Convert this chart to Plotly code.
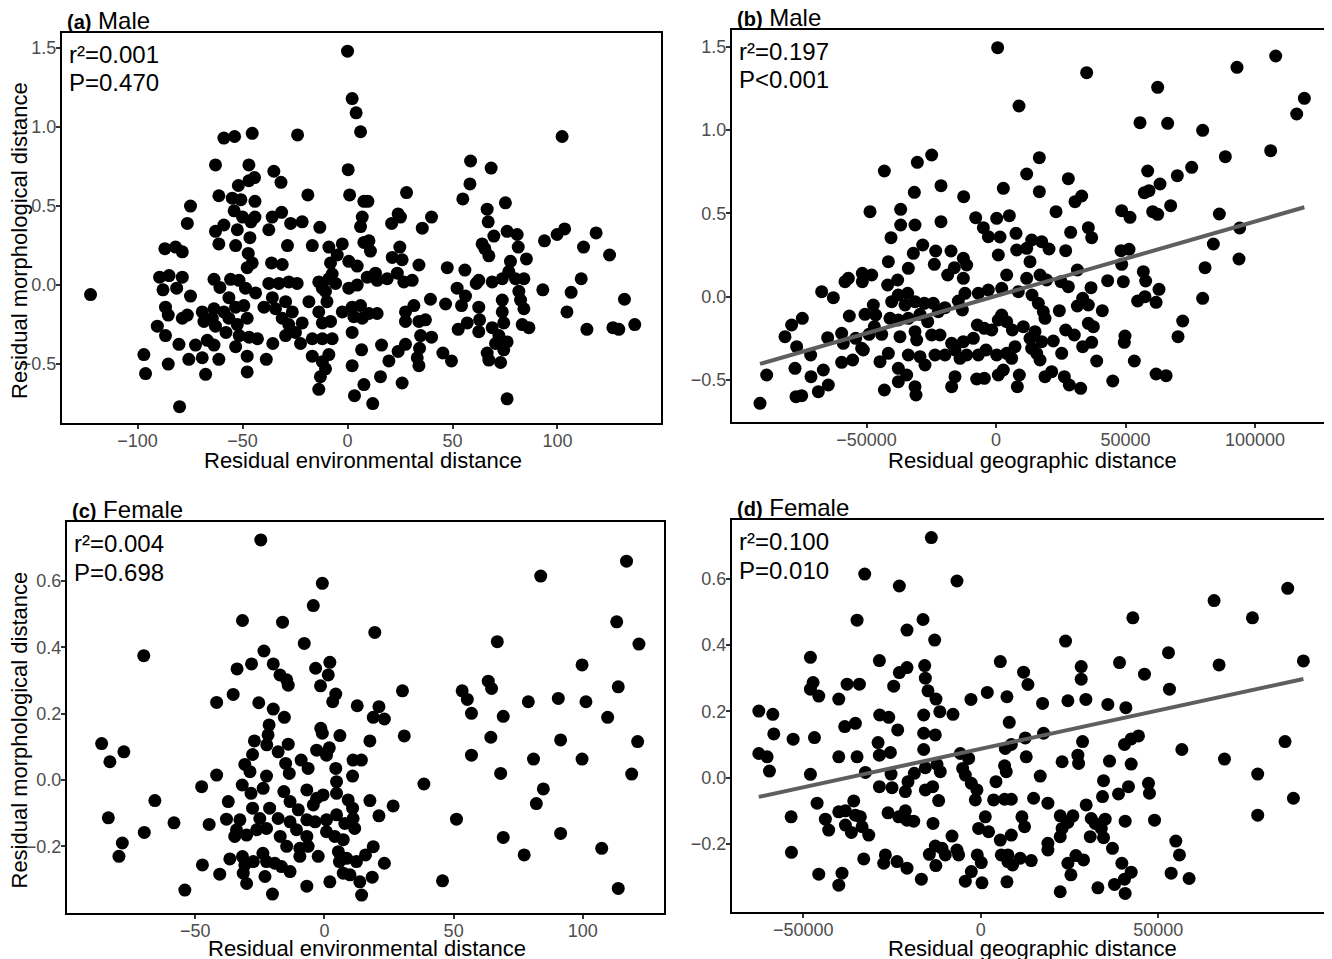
import plotly.graph_objects as go

W, H = 1332, 959
OFF = 8  # page body margin of the html page
FW, FH = W - OFF, H - OFF

# ---------------- data ----------------
# (a) Male: residual environmental distance vs residual morphological distance
male_env = [
    (0, 1.48), (2.2, 1.18), (4.1, 1.09), (6.2, 0.97), (-58.9, 0.93), (-53.8, 0.94), (-45.4, 0.96), (-23.8, 0.95),
    (-62.9, 0.76), (-47, 0.76), (-44.3, 0.68), (-47, 0.66), (-35.1, 0.72), (-31.7, 0.65), (-52, 0.63), (0.3, 0.73),
    (1, 0.57), (-61.3, 0.565), (-54.9, 0.55), (-50.8, 0.54), (-44.1, 0.53), (-18.9, 0.57), (-74.8, 0.50), (-76.3, 0.39),
    (-54, 0.47), (-50, 0.43), (-44.1, 0.43), (-46, 0.40), (-35.9, 0.43), (-31.4, 0.46), (-27.1, 0.39), (-21.6, 0.40),
    (-13.2, 0.365), (-37.5, 0.35), (-62.9, 0.34), (-58.9, 0.38), (-52.5, 0.35), (-61.3, 0.26), (-53.3, 0.25), (-46.5, 0.30),
    (-47.3, 0.20), (-45.4, 0.14), (-47.8, 0.11), (-87, 0.23), (-81.9, 0.24), (-78.7, 0.21), (-28.6, 0.25), (-16.8, 0.25),
    (-8.9, 0.24), (-2.5, 0.26), (-4.9, 0.19), (0.6, 0.15), (4.6, 0.12), (-36.2, 0.14), (-31.1, 0.13), (-8.1, 0.14),
    (-89.5, 0.05), (-85, 0.06), (-78.7, 0.05), (-87.9, -0.03), (-81.4, -0.02), (-74.8, -0.07), (-122.4, -0.06),
    (-63.6, 0.036), (-60.8, -0.015), (-55.7, 0.036), (-51.7, 0.03), (-48.6, -0.02), (-43.8, -0.05), (-37.5, 0.01),
    (-32.7, 0.01), (-28, 0.02), (-24, 0.01), (-13.7, 0.02), (-8.9, 0.04), (-5.7, 0.01), (0.6, -0.02), (4.6, 0),
    (-86.7, -0.14), (-85.4, -0.19), (-90.6, -0.26), (-86.7, -0.32), (-78.7, -0.21), (-76.3, -0.19), (-69.2, -0.17),
    (-68.4, -0.23), (-63.6, -0.15), (-64.4, -0.21), (-62.9, -0.26), (-58.9, -0.17), (-56.5, -0.08), (-53.3, -0.14),
    (-49.4, -0.13), (-56.5, -0.21), (-52.5, -0.25), (-47.8, -0.21), (-57.9, -0.30), (-51.6, -0.32), (-46.9, -0.33),
    (-42.9, -0.34), (-39.8, -0.14), (-35.8, -0.08), (-34.3, -0.15), (-29.5, -0.105), (-31.1, -0.21), (-26.3, -0.17),
    (-28, -0.25), (-24.8, -0.30), (-29.5, -0.32), (-21.6, -0.24), (-18.4, -0.105), (-13.7, -0.17), (-9.8, -0.105),
    (-12, -0.24), (-8.1, -0.23), (-16.8, -0.34), (-12, -0.34), (-7.3, -0.34), (-2.5, -0.17), (2.2, -0.14), (3, -0.2),
    (2.2, -0.30), (6.7, -0.41), (-35.6, -0.37), (-22.4, -0.37), (-80.3, -0.375), (-72.4, -0.38), (-66.8, -0.35),
    (-63.6, -0.38), (-53.3, -0.39), (-97, -0.44), (-96.2, -0.56), (-85.4, -0.50), (-75.6, -0.47), (-69.2, -0.46),
    (-67.6, -0.565), (-61.3, -0.47), (-47.8, -0.45), (-47.8, -0.55), (-38.7, -0.47), (-16.8, -0.45), (-12, -0.485),
    (-8.9, -0.44), (-10.5, -0.53), (-12.9, -0.58), (-13.7, -0.66), (2.2, -0.51), (3.3, -0.70), (7.8, -0.63),
    (-80, -0.77), (-12, -0.02), (-7.3, 0.07), (-10.5, -0.04), (7, 0.43), (6.2, 0.37), (7.8, 0.27), (7.8, 0.53),
    (102.2, 0.94), (58.6, 0.785), (68.4, 0.74), (58.3, 0.64), (54.9, 0.545), (28.1, 0.585), (9.7, 0.53),
    (75.2, 0.52), (66.5, 0.48), (67, 0.40), (24.1, 0.45), (21, 0.39), (25.2, 0.43), (40, 0.43), (35.6, 0.36),
    (69.7, 0.31), (76, 0.34), (80.8, 0.32), (81.3, 0.24), (85.2, 0.165), (93.8, 0.28), (99.8, 0.32), (103.4, 0.355),
    (118.4, 0.33), (112.4, 0.24), (124.8, 0.19), (10.2, 0.28), (10.9, 0.215), (24.9, 0.24), (21.3, 0.175), (26, 0.16),
    (64.1, 0.26), (65.4, 0.23), (67.3, 0.185), (34, 0.127), (47.5, 0.11), (55.9, 0.095), (77.6, 0.15), (76.8, 0.085),
    (80, 0.04), (84, 0.04), (73.7, 0.04), (62.5, 0.03), (68.9, 0.02), (61.3, 0.01), (9.4, 0.05), (13.3, 0.075),
    (14.1, 0.03), (18.9, 0.04), (23.7, 0.075), (26.8, 0.02), (30.8, 0.03), (93, -0.03), (106.5, -0.046), (111.3, 0.04),
    (131.9, -0.09), (136.8, -0.25), (126.4, -0.27), (129.2, -0.28), (114, -0.28), (104.5, -0.17), (52.2, -0.02),
    (56.2, -0.07), (54.3, -0.13), (46.7, -0.12), (39.5, -0.09), (31.6, -0.13), (27.6, -0.17), (27.6, -0.23), (34, -0.23),
    (37.1, -0.22), (14.1, -0.18), (10.2, -0.18), (6.2, -0.13), (7, -0.21), (52.7, -0.28), (57, -0.24), (62.5, -0.14),
    (62.9, -0.22), (62.5, -0.295), (73.7, -0.095), (73.7, -0.17), (81.6, -0.04), (82.4, -0.095), (84, -0.15),
    (83.2, -0.25), (86.4, -0.27), (74.4, -0.24), (68.9, -0.27), (72.1, -0.32), (76, -0.36), (74.4, -0.41), (70.5, -0.37),
    (66.5, -0.43), (67.3, -0.475), (72.9, -0.49), (76, -0.72), (34.8, -0.32), (40, -0.33), (34.3, -0.40), (33.2, -0.46),
    (34, -0.51), (27.6, -0.375), (24.1, -0.42), (19.7, -0.48), (16.2, -0.38), (45.4, -0.43), (49.5, -0.48), (26, -0.62),
    (15.7, -0.58), (12, -0.75),
]

# (b) Male: residual geographic distance vs residual morphological distance
male_geo = [
    (640, 1.494), (8880, 1.144), (-24840, 0.85), (-30370, 0.806), (-43110, 0.754), (-21240, 0.666), (-31530, 0.626),
    (-12480, 0.60), (2830, 0.65), (11840, 0.736), (-48650, 0.51), (-36810, 0.524), (-31270, 0.43), (-40540, 0.354),
    (-36810, 0.43), (-21240, 0.45), (-7850, 0.474), (-4890, 0.414), (-2960, 0.36), (260, 0.47), (5150, 0.486),
    (1540, 0.358), (7720, 0.38), (7980, 0.28), (11840, 0.29), (13770, 0.34), (-28310, 0.31), (-31920, 0.26),
    (-23290, 0.274), (-23810, 0.194), (-17370, 0.274), (-41570, 0.21), (-33850, 0.17), (-37970, 0.10), (-41830, 0.07),
    (-16090, 0.174), (-12610, 0.23), (-11330, 0.19), (-18660, 0.13), (-12610, 0.11), (900, 0.25), (4120, 0.13),
    (-6820, 0.02), (-2960, 0.04), (2190, 0.05), (8620, 0.03), (11840, 0.11), (13130, 0.21), (-48000, 0.13),
    (-51610, 0.14), (-67310, 0.03), (-62800, -0.006), (-58300, 0.09), (-57010, 0.11), (-51610, 0.09), (-47360, -0.05),
    (-46460, -0.11), (-35130, -0.05), (-40280, -0.03), (-37710, 0.01), (-34100, 0.02), (-31270, -0.03), (-27670, -0.04),
    (-24200, -0.04), (-22270, -0.09), (-19700, -0.066), (-14540, -0.026), (-12990, -0.08), (-11970, 0.02),
    (-56630, -0.116), (-50580, -0.106), (-40930, -0.13), (-37710, -0.14), (-33850, -0.13), (-29340, -0.106),
    (-26380, -0.15), (-81470, -0.24), (-78900, -0.17), (-74780, -0.13), (-76960, -0.30), (-71560, -0.35),
    (-77610, -0.43), (-65000, -0.246), (-59590, -0.22), (-58950, -0.28), (-54180, -0.25), (-51870, -0.31),
    (-49030, -0.226), (-46980, -0.18), (-44140, -0.226), (-59590, -0.394), (-55340, -0.38), (-51220, -0.32),
    (-44790, -0.39), (-41570, -0.34), (-37070, -0.24), (-31270, -0.21), (-30630, -0.26), (-24840, -0.23),
    (-21620, -0.23), (-17120, -0.28), (-12610, -0.27), (-8750, -0.25), (-7210, -0.17), (-4500, -0.19), (-1670, -0.20),
    (900, -0.14), (2190, -0.11), (4120, -0.15), (6310, -0.20), (10550, -0.18), (13130, -0.25), (-33850, -0.35),
    (-29340, -0.36), (-27410, -0.41), (-23550, -0.35), (-19700, -0.35), (-15830, -0.32), (-13900, -0.37),
    (-11330, -0.35), (-6820, -0.35), (-3860, -0.32), (260, -0.35), (4120, -0.34), (6050, -0.37), (7340, -0.30),
    (-37710, -0.43), (-34490, -0.47), (-37710, -0.51), (-43110, -0.56), (-31270, -0.54), (-30890, -0.59),
    (-17120, -0.54), (-15830, -0.48), (-7460, -0.494), (-4500, -0.49), (900, -0.47), (2830, -0.44), (8240, -0.54),
    (9010, -0.47), (-88540, -0.47), (-91120, -0.64), (-75030, -0.594), (-77220, -0.60), (-71430, -0.48),
    (-68600, -0.57), (-66670, -0.44), (-64740, -0.53),
    (35000, 1.344), (62420, 1.256), (93050, 1.376), (107990, 1.444), (119050, 1.19), (116090, 1.096), (106050, 0.876),
    (55600, 1.044), (66280, 1.04), (79790, 0.998), (88540, 0.84), (75550, 0.776), (70010, 0.726), (63320, 0.676),
    (58560, 0.754), (57270, 0.624), (59070, 0.636), (67430, 0.546), (60480, 0.51), (62420, 0.494), (48520, 0.516),
    (51740, 0.476), (86230, 0.496), (94080, 0.412), (83920, 0.316), (80700, 0.174), (93820, 0.226), (79790, -0.01),
    (72070, -0.146), (70280, -0.24), (16730, 0.834), (27930, 0.708), (16730, 0.63), (30500, 0.57), (33080, 0.604),
    (23170, 0.51), (28830, 0.386), (35650, 0.414), (36940, 0.354), (17630, 0.33), (20460, 0.286), (26900, 0.276),
    (48260, 0.276), (51350, 0.284), (48520, 0.194), (31410, 0.16), (56880, 0.15), (57780, 0.094), (62930, 0.044),
    (43110, 0.096), (49160, 0.09), (36680, 0.054), (27930, 0.06), (25100, 0.09), (19560, 0.10), (16990, 0.13),
    (13900, 0.01), (16350, -0.04), (18270, -0.09), (18920, -0.13), (24450, -0.084), (31410, -0.056), (33460, -0.01),
    (35650, -0.05), (41050, -0.084), (54690, -0.026), (57520, 0), (61810, -0.034), (35650, -0.16), (37590, -0.18),
    (26900, -0.20), (30230, -0.23), (33460, -0.30), (36940, -0.274), (49800, -0.236), (49540, -0.274),
    (38870, -0.386), (53410, -0.386), (15060, -0.21), (17630, -0.27), (13770, -0.31), (22130, -0.266),
    (25360, -0.34), (15700, -0.34), (16990, -0.38), (18920, -0.48), (21490, -0.45), (26390, -0.48), (28310, -0.53),
    (32690, -0.55), (45080, -0.506), (61810, -0.464), (65670, -0.474),
]

# (c) Female: residual environmental distance vs residual morphological distance
female_env = [
    (-24.6, 0.724), (-0.8, 0.593), (-4.3, 0.526), (-31.7, 0.481), (-16.2, 0.476), (-7.8, 0.412), (-69.9, 0.375),
    (-23.4, 0.389), (-28.2, 0.35), (-33.8, 0.335), (-19.8, 0.35), (-17.2, 0.317), (-14.6, 0.302), (-14, 0.286),
    (-3.4, 0.337), (2.1, 0.355), (1.5, 0.317), (-1.5, 0.284), (4.4, 0.259), (3.2, 0.236), (12.7, 0.224), (-41.7, 0.234),
    (-35.3, 0.258), (-25.4, 0.233), (-19.8, 0.214), (-15.5, 0.189), (-21.4, 0.166), (-21.8, 0.136), (-27.1, 0.118),
    (-22.3, 0.106), (-17.9, 0.085), (-14, 0.108), (-1.4, 0.156), (-0.8, 0.141), (6, 0.134), (-3, 0.09), (1.9, 0.097),
    (11.1, 0.06), (14.3, 0.06), (-27.8, 0.077), (-30.8, 0.047), (-28.8, 0.025), (-22.4, 0.012), (-15, 0.05),
    (-13.6, 0.02), (-9, 0.06), (-6.3, 0.035), (0.8, 0.075), (4.4, 0.035), (10.9, 0.012), (4.7, -0.005), (-86.2, 0.11),
    (-83, 0.055), (-77.6, 0.085), (-41.7, 0.015), (-47.5, -0.02), (-31.8, -0.015), (-28.4, -0.04), (-23.7, -0.025),
    (-15.7, -0.035), (-13.3, -0.065), (-6.8, -0.03), (-3, -0.055), (-4.3, -0.075), (-0.5, -0.045), (4.7, -0.04),
    (9.2, -0.06), (10.9, -0.085), (-37.2, -0.065), (-65.6, -0.062), (-83.6, -0.114), (-58.2, -0.129), (-44.6, -0.134),
    (-37.9, -0.118), (-32.7, -0.12), (-27.8, -0.085), (-25, -0.116), (-21.2, -0.085), (-17.9, -0.116), (-13.3, -0.126),
    (-10.1, -0.09), (-6.8, -0.12), (-3.6, -0.126), (0.8, -0.12), (4.7, -0.105), (7.9, -0.131), (11.1, -0.116),
    (11.7, -0.146), (-34, -0.15), (-30.1, -0.166), (-26.2, -0.15), (-22.4, -0.146), (-10.8, -0.15), (-6.8, -0.17),
    (0.8, -0.156), (4, -0.17), (7.3, -0.18), (-34.7, -0.17), (-17.1, -0.17), (-14.6, -0.2), (-9.5, -0.206),
    (-6.3, -0.2), (-2.4, -0.23), (-9.5, -0.23), (5.4, -0.216), (8.6, -0.236), (12.4, -0.246), (-69.7, -0.158),
    (-78.2, -0.19), (-79.5, -0.23), (-47.2, -0.256), (-40.5, -0.284), (-54, -0.332), (-36.6, -0.238), (-31.7, -0.231),
    (-30.8, -0.256), (-27.5, -0.246), (-23.8, -0.221), (-22.4, -0.246), (-19.2, -0.251), (-16.6, -0.261),
    (-13.3, -0.276), (-31.4, -0.281), (-30.1, -0.312), (-23, -0.291), (-20.1, -0.344), (-6.8, -0.32), (2.1, -0.307),
    (5.8, -0.246), (7.3, -0.281), (9.9, -0.286), (13.7, -0.307), (14.4, -0.347),
    (116.9, 0.66), (83.7, 0.615), (19.5, 0.445), (113.1, 0.477), (121.7, 0.41), (66.9, 0.417), (99.7, 0.347),
    (113.7, 0.281), (63.4, 0.298), (64.7, 0.276), (53.3, 0.269), (55.3, 0.243), (56.9, 0.201), (69.2, 0.192),
    (78.9, 0.236), (90.5, 0.246), (101.2, 0.236), (109.6, 0.189), (30.2, 0.269), (21.1, 0.221), (18.9, 0.189),
    (23.2, 0.184), (17.6, 0.118), (30.9, 0.133), (56.9, 0.075), (64.4, 0.129), (91.4, 0.121), (80.9, 0.063),
    (99.7, 0.063), (121.2, 0.116), (118.9, 0.018), (68.2, 0.02), (38.5, -0.012), (84.7, -0.027), (82, -0.071),
    (17.6, -0.062), (26.6, -0.078), (21.1, -0.108), (51.1, -0.118), (69.2, -0.173), (91.4, -0.161), (77.3, -0.226),
    (107.3, -0.206), (18.9, -0.201), (15.9, -0.226), (23.2, -0.251), (18.5, -0.293), (45.7, -0.304), (113.7, -0.327),
]

# (d) Female: residual geographic distance vs residual morphological distance
female_geo = [
    (-13930, 0.724), (-32690, 0.614), (-22940, 0.578), (-6710, 0.593), (-34850, 0.475), (-16270, 0.477),
    (-20780, 0.445), (-12990, 0.415), (-47980, 0.363), (-28560, 0.353), (-20780, 0.332), (-22940, 0.317),
    (-15800, 0.338), (-15620, 0.30), (-14870, 0.262), (-12620, 0.237), (-47230, 0.287), (-47980, 0.267),
    (-45630, 0.246), (-37660, 0.282), (-34190, 0.282), (-24530, 0.276), (-40000, 0.237), (-62520, 0.201),
    (-58580, 0.191), (-58300, 0.132), (-52850, 0.116), (-46850, 0.121), (-38320, 0.154), (-35320, 0.164),
    (-28470, 0.189), (-25930, 0.182), (-23400, 0.144), (-16080, 0.189), (-11540, 0.199), (-7830, 0.191),
    (-16080, 0.134), (-12810, 0.129), (-2770, 0.236), (1830, 0.257), (7360, 0.244), (5490, 0.35), (12050, 0.318),
    (13270, 0.281), (8020, 0.167), (6890, 0.088), (6700, 0.036), (7170, 0.018), (8590, 0.10), (12520, 0.12),
    (12800, 0.063), (-62520, 0.073), (-60170, 0.063), (-59520, 0.02), (-47980, 0.01), (-40000, 0.063),
    (-34850, 0.063), (-32500, 0.016), (-28930, 0.106), (-28560, 0.068), (-25460, 0.076), (-25280, 0.011),
    (-28560, -0.027), (-25000, -0.03), (-21250, -0.042), (-20500, -0.012), (-18720, 0.013), (-16080, 0.085),
    (-15620, 0.03), (-12340, 0.04), (-11410, 0.018), (-15620, -0.037), (-13550, -0.027), (-11870, -0.069),
    (-5770, 0.073), (-3420, 0.058), (-5110, 0.028), (-4360, 0.008), (-2670, -0.017), (-1080, -0.037), (-1550, -0.067),
    (4270, -0.012), (3610, -0.067), (6700, -0.065), (8590, -0.065), (-46100, -0.077), (-53420, -0.118),
    (-53330, -0.225), (-45630, -0.291), (-40000, -0.324), (-39090, -0.288), (-35790, -0.07), (-43780, -0.125),
    (-42840, -0.158), (-40000, -0.103), (-38130, -0.10), (-35320, -0.113), (-38130, -0.143), (-36450, -0.165),
    (-33910, -0.118), (-33440, -0.148), (-31560, -0.173), (-26120, -0.106), (-23120, -0.118), (-21250, -0.10),
    (-20780, -0.128), (-18900, -0.131), (-13460, -0.138), (-32970, -0.245), (-26870, -0.233), (-27340, -0.258),
    (-23590, -0.253), (-20780, -0.273), (-16740, -0.306), (-14490, -0.231), (-12810, -0.206), (-10930, -0.213),
    (-12660, -0.265), (-10000, -0.233), (-8110, -0.176), (-6710, -0.218), (-6240, -0.233), (-4360, -0.312),
    (-2670, -0.283), (-990, -0.233), (140, -0.256), (330, -0.317), (-610, -0.153), (1270, -0.118), (2200, -0.163),
    (5490, -0.188), (8590, -0.173), (11580, -0.118), (12330, -0.148), (5770, -0.233), (7640, -0.233), (7640, -0.253),
    (8960, -0.263), (11110, -0.243), (7360, -0.314),
    (86440, 0.571), (65700, 0.534), (76500, 0.482), (42820, 0.482), (23870, 0.412), (52860, 0.377), (39070, 0.347),
    (28280, 0.335), (28280, 0.297), (46100, 0.312), (67110, 0.34), (90850, 0.352), (53140, 0.267), (17400, 0.224),
    (24530, 0.232), (29590, 0.236), (35780, 0.221), (40850, 0.211), (17680, 0.134), (28660, 0.109), (40470, 0.10),
    (42350, 0.117), (44410, 0.126), (56620, 0.085), (68630, 0.056), (85690, 0.109), (22900, 0.048), (27340, 0.068),
    (27540, 0.043), (36250, 0.05), (42350, 0.041), (77990, 0.011), (16740, 0.005), (34570, -0.009), (47230, -0.017),
    (47510, -0.047), (41600, -0.027), (38790, -0.049), (34280, -0.057), (14870, -0.062), (18900, -0.077),
    (88040, -0.062), (77990, -0.113), (29680, -0.082), (22370, -0.115), (25940, -0.115), (24530, -0.135),
    (31100, -0.123), (32220, -0.138), (35030, -0.125), (33930, -0.153), (40660, -0.131), (48930, -0.128),
    (22900, -0.153), (22370, -0.178), (30820, -0.178), (34570, -0.181), (37090, -0.213), (18900, -0.198),
    (18900, -0.218), (14210, -0.25), (24530, -0.258), (26780, -0.235), (28940, -0.248), (25380, -0.293),
    (39730, -0.258), (42350, -0.285), (40470, -0.306), (37650, -0.322), (40660, -0.349), (32980, -0.332),
    (22370, -0.344), (54920, -0.191), (55950, -0.233), (53610, -0.288), (58670, -0.304),
]

# linear fits (intercept, slope) shown in panels b and d
fit_male_geo = [0.004, 4.473e-6]
fit_female_geo = [0.087, 2.319e-6]

panel_letters = ["(a)", "(b)", "(c)", "(d)"]
panel_sexes = ["Male", "Male", "Female", "Female"]
r2_texts = ["r\u00b2=0.001", "r\u00b2=0.197", "r\u00b2=0.004", "r\u00b2=0.100"]
p_texts = ["P=0.470", "P<0.001", "P=0.698", "P=0.010"]
x_titles = ["Residual environmental distance", "Residual geographic distance",
            "Residual environmental distance", "Residual geographic distance"]
y_title = "Residual morphological distance"

xticks_a = [-100, -50, 0, 50, 100]
xticks_b = [-50000, 0, 50000, 100000]
xticks_c = [-50, 0, 50, 100]
xticks_d = [-50000, 0, 50000]
yticks_male = [-0.5, 0.0, 0.5, 1.0, 1.5]
yticks_female = [-0.2, 0.0, 0.2, 0.4, 0.6]

# ---------------- layout (pixel boxes in the page) ----------------
FONT = "Liberation Sans, Arial, Helvetica, sans-serif"
TICK_COLOR = "#4d4d4d"

panels = [
    dict(data=male_env, fit=None, box=(62, 33, 661, 423), xr=[-136, 149.3], yr=[-0.873, 1.595],
         xt=xticks_a, yt=yticks_male, tgap=38),
    dict(data=male_geo, fit=fit_male_geo, box=(732, 30, 1331, 422), xr=[-101930, 129340], yr=[-0.752, 1.60],
         xt=xticks_b, yt=yticks_male, tgap=39),
    dict(data=female_env, fit=None, box=(67, 522, 664, 913), xr=[-99.6, 131.4], yr=[-0.401, 0.778],
         xt=xticks_c, yt=yticks_female, tgap=35),
    dict(data=female_geo, fit=fit_female_geo, box=(732, 520, 1331, 912), xr=[-70070, 98630], yr=[-0.405, 0.777],
         xt=xticks_d, yt=yticks_female, tgap=36),
]


def px(x):
    return (x - OFF) / FW


def py(y):
    return 1 - (y - OFF) / FH


def fmt_x(v):
    return str(v).replace("-", "\u2212")


def fmt_y(v):
    return f"{v:.1f}".replace("-", "\u2212")


fig = go.Figure()
layout = dict(
    width=FW, height=FH, margin=dict(l=0, r=0, t=0, b=0),
    paper_bgcolor="white", plot_bgcolor="white", showlegend=False,
    font=dict(family=FONT, color="black"),
)
annotations = []

for i, p in enumerate(panels):
    k = "" if i == 0 else str(i + 1)
    xs = [d[0] for d in p["data"]]
    ys = [d[1] for d in p["data"]]
    fig.add_trace(go.Scatter(
        x=xs, y=ys, mode="markers", xaxis="x" + k, yaxis="y" + k,
        marker=dict(size=13, color="black", line=dict(width=0)),
        hoverinfo="skip",
    ))
    if p["fit"] is not None:
        b0, b1 = p["fit"]
        lx = [min(xs), max(xs)]
        fig.add_trace(go.Scatter(
            x=lx, y=[b0 + b1 * v for v in lx], mode="lines", xaxis="x" + k, yaxis="y" + k,
            line=dict(color="#5e5e5e", width=4), hoverinfo="skip",
        ))
    x0, y0, x1, y1 = p["box"]
    axis_common = dict(
        showline=True, mirror=True, linecolor="black", linewidth=2,
        showgrid=False, zeroline=False, ticks="",
        tickfont=dict(family=FONT, size=18, color=TICK_COLOR),
    )
    layout["xaxis" + k] = dict(
        axis_common, domain=[px(x0), px(x1)], range=p["xr"], anchor="y" + k,
        tickmode="array", tickvals=p["xt"], ticktext=[fmt_x(v) for v in p["xt"]],
        minor=dict(tickmode="array", tickvals=p["xt"], ticks="outside", ticklen=4, tickwidth=1.5,
                   tickcolor="#333333", showgrid=False),
    )
    layout["yaxis" + k] = dict(
        axis_common, domain=[py(y1), py(y0)], range=p["yr"], anchor="x" + k,
        tickmode="array", tickvals=p["yt"], ticktext=[fmt_y(v) for v in p["yt"]],
        minor=dict(tickmode="array", tickvals=p["yt"], ticks="outside", ticklen=4, tickwidth=1.5,
                   tickcolor="#333333", showgrid=False),
    )
    # panel title
    annotations.append(dict(
        xref="paper", yref="paper", x=px(x0 + 3), y=py(y0 + 3), xanchor="left", yanchor="bottom",
        text=f"<span style='font-size:20px'><b>{panel_letters[i]}</b></span> {panel_sexes[i]}",
        showarrow=False, font=dict(size=24, color="black", family=FONT),
    ))
    # statistics
    annotations.append(dict(
        xref="paper", yref="paper", x=px(x0 + 5), y=py(y0 + 21), xanchor="left", yanchor="middle",
        text=r2_texts[i], showarrow=False, font=dict(size=24, color="black", family=FONT),
    ))
    annotations.append(dict(
        xref="paper", yref="paper", x=px(x0 + 5), y=py(y0 + 50), xanchor="left", yanchor="middle",
        text=p_texts[i], showarrow=False, font=dict(size=24, color="black", family=FONT),
    ))
    # x axis title
    annotations.append(dict(
        xref="paper", yref="paper", x=px((x0 + x1) / 2 + 1), y=py(y1 + p["tgap"]), xanchor="center",
        yanchor="middle", text=x_titles[i], showarrow=False, font=dict(size=22, color="black", family=FONT),
    ))
    if i in (0, 2):
        annotations.append(dict(
            xref="paper", yref="paper", x=px(19), y=py((y0 + y1) / 2 + 13), xanchor="center", yanchor="middle",
            text=y_title, textangle=-90, showarrow=False, font=dict(size=22, color="black", family=FONT),
        ))

layout["annotations"] = annotations
fig.update_layout(**layout)
fig.write_html("out.html")
